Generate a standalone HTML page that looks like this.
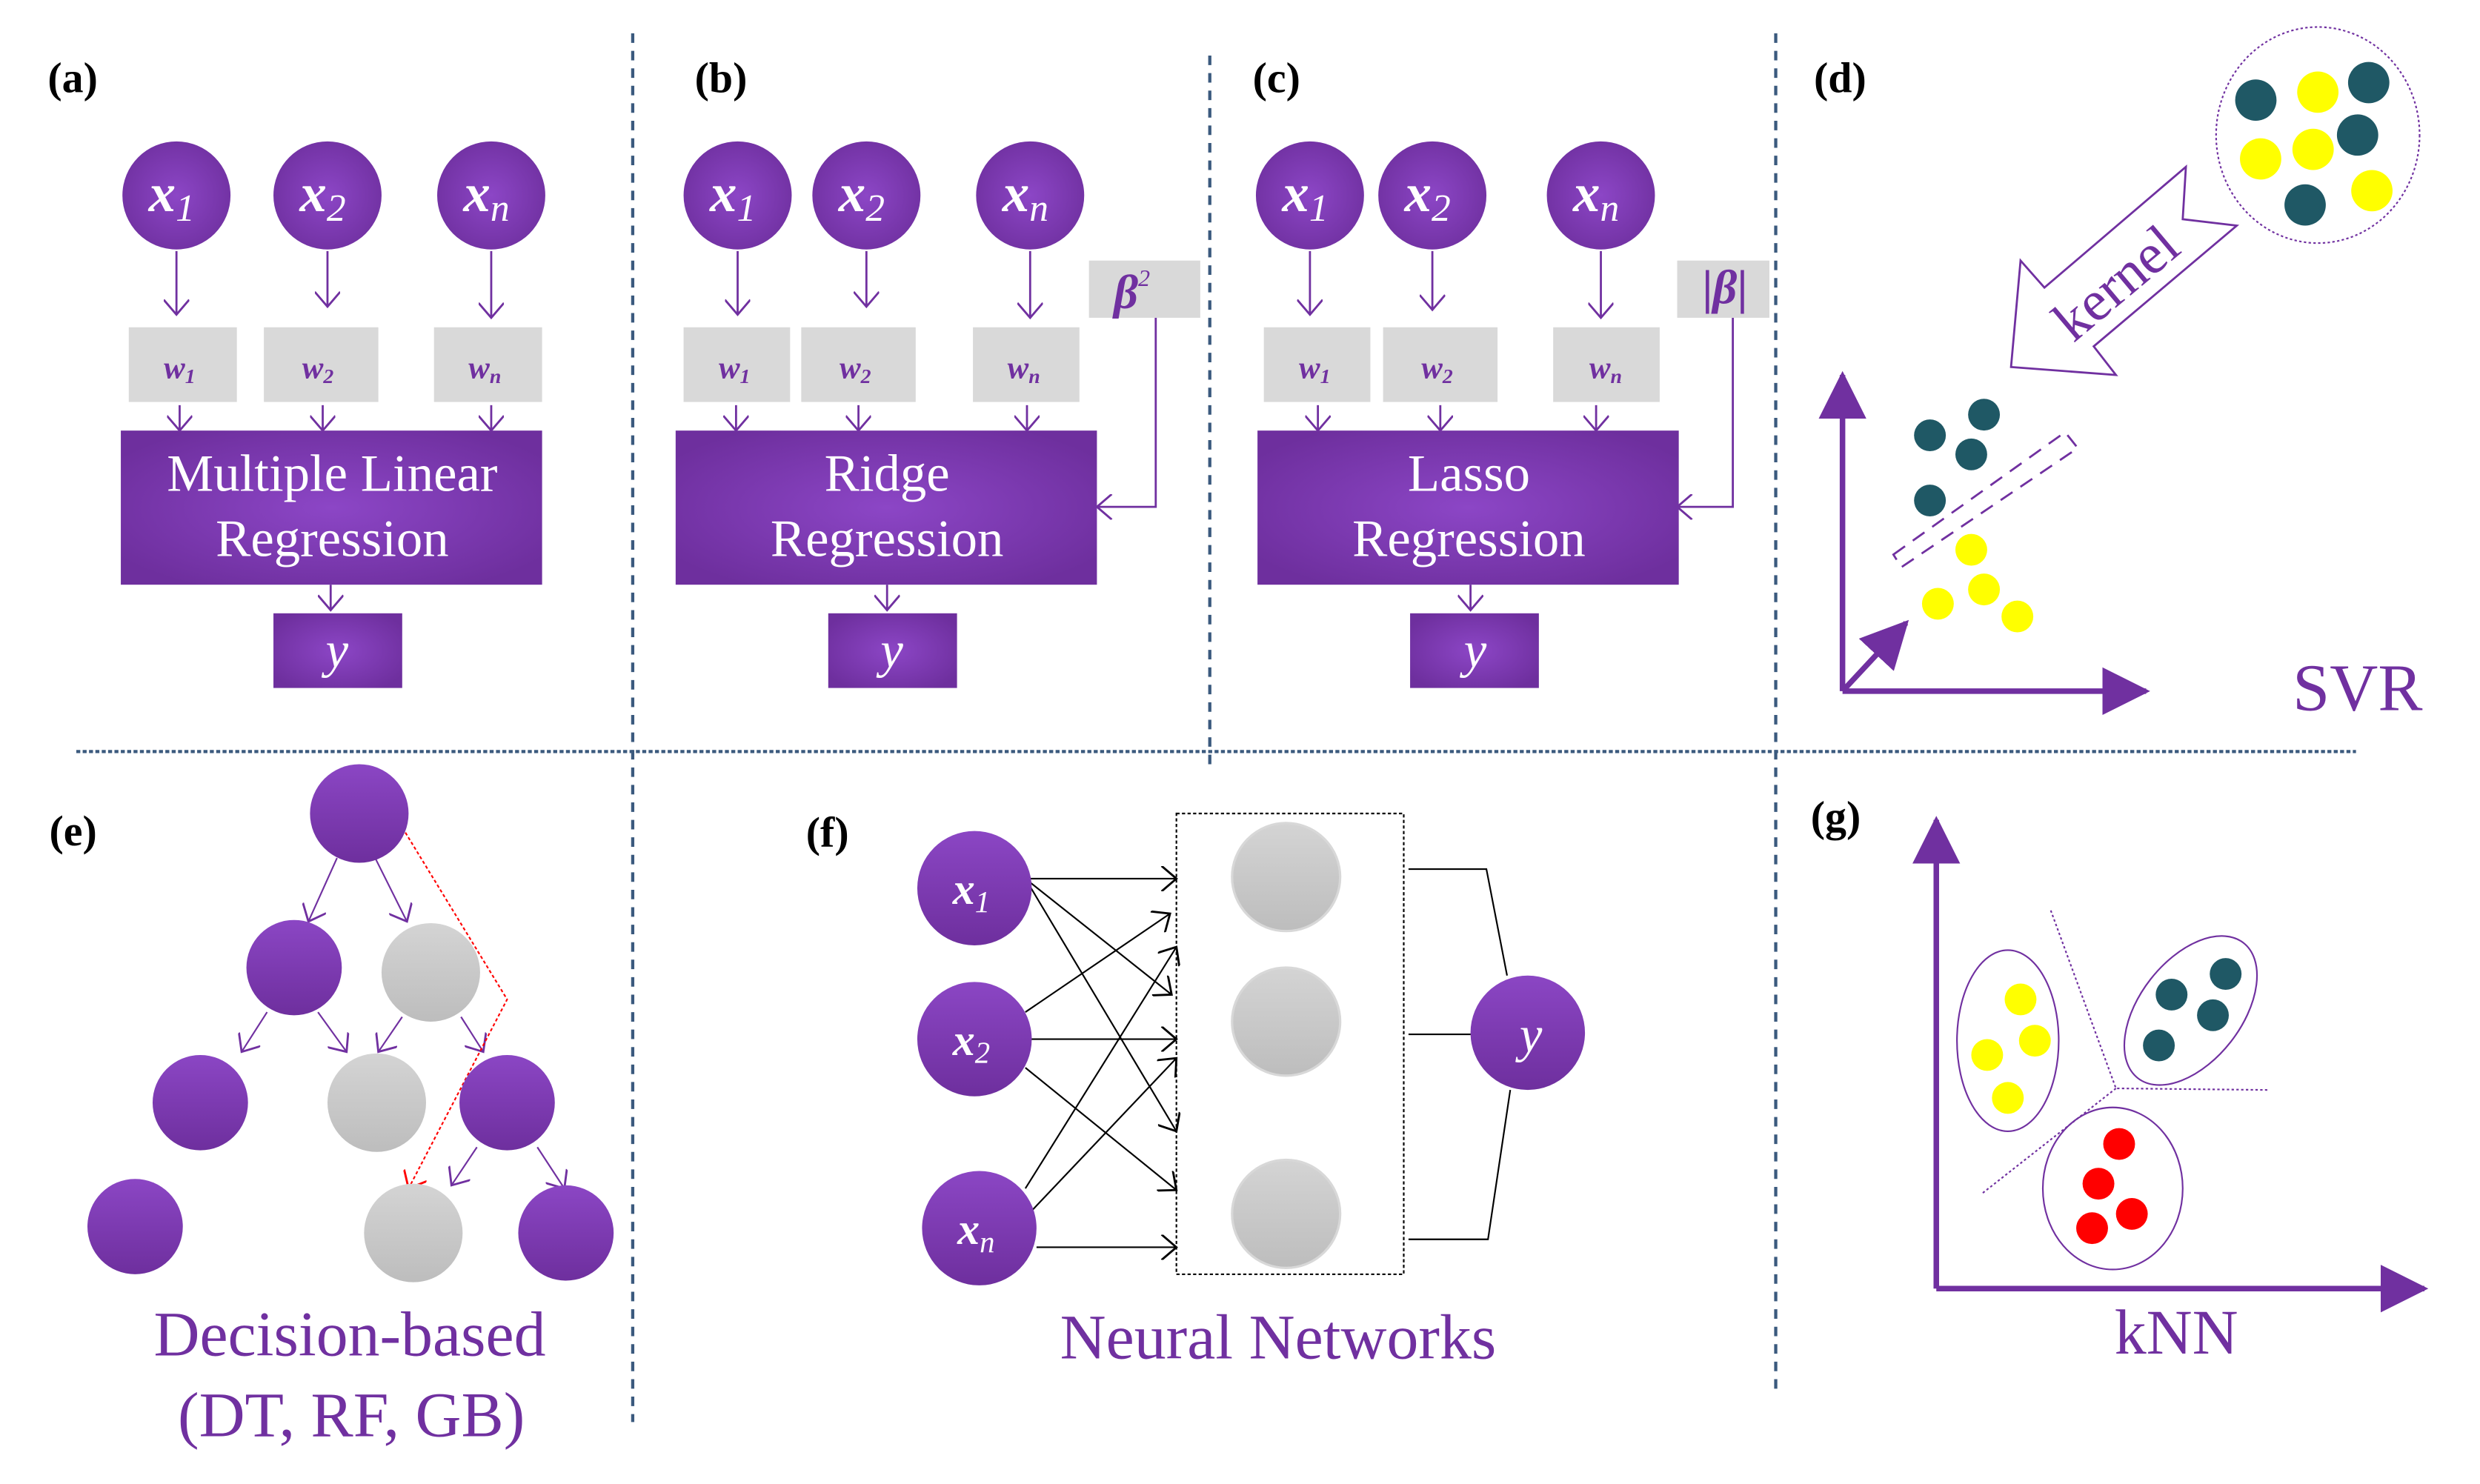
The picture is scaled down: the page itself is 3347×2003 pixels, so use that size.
<!DOCTYPE html>
<html><head><meta charset="utf-8"><style>
html,body{margin:0;padding:0;background:#fff;}
svg{display:block;}
text{font-family:"Liberation Serif",serif;}
</style></head><body>
<svg width="3347" height="2003" viewBox="0 0 1560 934" preserveAspectRatio="none" xmlns="http://www.w3.org/2000/svg" font-family="Liberation Serif, serif">
<defs>
<radialGradient id="pg" cx="50%" cy="50%" r="60%"><stop offset="0" stop-color="#8c46c6"/><stop offset="1" stop-color="#6e2f9e"/></radialGradient>
<linearGradient id="tg" x1="0" y1="0" x2="0" y2="1"><stop offset="0" stop-color="#8b46c4"/><stop offset="1" stop-color="#6e2f9e"/></linearGradient>
<linearGradient id="gg" x1="0" y1="0" x2="0" y2="1"><stop offset="0" stop-color="#d4d4d4"/><stop offset="1" stop-color="#bdbdbd"/></linearGradient>
<marker id="ar" markerUnits="userSpaceOnUse" markerWidth="16" markerHeight="16" refX="7" refY="6" orient="auto" viewBox="0 0 8 12"><path d="M0,0 L7,6 L0,12" fill="none" stroke="#7030a0" stroke-width="1"/></marker>
<marker id="ark" markerUnits="userSpaceOnUse" markerWidth="16" markerHeight="16" refX="7" refY="6" orient="auto" viewBox="0 0 8 12"><path d="M0,0 L7,6 L0,12" fill="none" stroke="#000" stroke-width="1"/></marker>
<marker id="arr" markerUnits="userSpaceOnUse" markerWidth="16" markerHeight="16" refX="7" refY="6" orient="auto" viewBox="0 0 8 12"><path d="M0,0 L7,6 L0,12" fill="none" stroke="#f00" stroke-width="1"/></marker>
<marker id="ah" markerUnits="userSpaceOnUse" markerWidth="30" markerHeight="30" refX="22" refY="12" orient="auto" viewBox="0 0 24 24"><path d="M0,0 L24,12 L0,24 Z" fill="#7030a0"/></marker>
</defs>

<g stroke="#3b5a7e" stroke-width="2" fill="none">
<line x1="398" y1="21" x2="398" y2="895" stroke-dasharray="6,5"/>
<line x1="761" y1="35" x2="761" y2="481" stroke-dasharray="6,5"/>
<line x1="1117" y1="21" x2="1117" y2="876" stroke-dasharray="6,5"/>
<line x1="48" y1="473" x2="1482" y2="473" stroke-dasharray="2.5,1.5"/>
</g>

<g font-weight="bold" font-size="27" fill="#000">
<text x="30" y="58">(a)</text>
<text x="437" y="58">(b)</text>
<text x="788" y="58">(c)</text>
<text x="1141" y="58">(d)</text>
<text x="31" y="532">(e)</text>
<text x="507" y="533">(f)</text>
<text x="1139" y="523">(g)</text>
</g>

<g stroke="#7030a0" stroke-width="1.3" fill="none">
<line x1="111" y1="158" x2="111" y2="198" marker-end="url(#ar)"/>
<line x1="206" y1="158" x2="206" y2="193" marker-end="url(#ar)"/>
<line x1="309" y1="158" x2="309" y2="200" marker-end="url(#ar)"/>
<line x1="113" y1="255" x2="113" y2="271" marker-end="url(#ar)"/>
<line x1="203" y1="255" x2="203" y2="271" marker-end="url(#ar)"/>
<line x1="309" y1="255" x2="309" y2="271" marker-end="url(#ar)"/>
<line x1="208" y1="368" x2="208" y2="384" marker-end="url(#ar)"/>
</g>
<g fill="url(#pg)">
<circle cx="111" cy="123" r="34"/><circle cx="206" cy="123" r="34"/><circle cx="309" cy="123" r="34"/>
<rect x="76" y="271" width="265" height="97"/>
<rect x="172" y="386" width="81" height="47"/>
</g>
<g fill="#d9d9d9"><rect x="81" y="206" width="68" height="47"/><rect x="166" y="206" width="72" height="47"/><rect x="273" y="206" width="68" height="47"/></g>

<g stroke="#7030a0" stroke-width="1.3" fill="none">
<line x1="464" y1="158" x2="464" y2="198" marker-end="url(#ar)"/>
<line x1="545" y1="158" x2="545" y2="193" marker-end="url(#ar)"/>
<line x1="648" y1="158" x2="648" y2="200" marker-end="url(#ar)"/>
<line x1="463" y1="255" x2="463" y2="271" marker-end="url(#ar)"/>
<line x1="540" y1="255" x2="540" y2="271" marker-end="url(#ar)"/>
<line x1="646" y1="255" x2="646" y2="271" marker-end="url(#ar)"/>
<line x1="558" y1="368" x2="558" y2="384" marker-end="url(#ar)"/>
<polyline points="727,200 727,319 690,319" marker-end="url(#ar)"/>
</g>
<g fill="url(#pg)">
<circle cx="464" cy="123" r="34"/><circle cx="545" cy="123" r="34"/><circle cx="648" cy="123" r="34"/>
<rect x="425" y="271" width="265" height="97"/>
<rect x="521" y="386" width="81" height="47"/>
</g>
<g fill="#d9d9d9"><rect x="430" y="206" width="67" height="47"/><rect x="504" y="206" width="72" height="47"/><rect x="612" y="206" width="67" height="47"/><rect x="685" y="164" width="70" height="36"/></g>

<g stroke="#7030a0" stroke-width="1.3" fill="none">
<line x1="824" y1="158" x2="824" y2="198" marker-end="url(#ar)"/>
<line x1="901" y1="158" x2="901" y2="195" marker-end="url(#ar)"/>
<line x1="1007" y1="158" x2="1007" y2="200" marker-end="url(#ar)"/>
<line x1="829" y1="255" x2="829" y2="271" marker-end="url(#ar)"/>
<line x1="906" y1="255" x2="906" y2="271" marker-end="url(#ar)"/>
<line x1="1004" y1="255" x2="1004" y2="271" marker-end="url(#ar)"/>
<line x1="925" y1="368" x2="925" y2="384" marker-end="url(#ar)"/>
<polyline points="1090,200 1090,319 1055,319" marker-end="url(#ar)"/>
</g>
<g fill="url(#pg)">
<circle cx="824" cy="123" r="34"/><circle cx="901" cy="123" r="34"/><circle cx="1007" cy="123" r="34"/>
<rect x="791" y="271" width="265" height="97"/>
<rect x="887" y="386" width="81" height="47"/>
</g>
<g fill="#d9d9d9"><rect x="795" y="206" width="67" height="47"/><rect x="870" y="206" width="72" height="47"/><rect x="977" y="206" width="67" height="47"/><rect x="1055" y="164" width="58" height="36"/></g>

<g fill="#fff" font-weight="bold" font-style="italic" font-size="34" text-anchor="middle">
<text x="108" y="133">x<tspan font-size="24" font-weight="normal" dy="6">1</tspan></text>
<text x="203" y="133">x<tspan font-size="24" font-weight="normal" dy="6">2</tspan></text>
<text x="306" y="133">x<tspan font-size="24" font-weight="normal" dy="6">n</tspan></text>
<text x="461" y="133">x<tspan font-size="24" font-weight="normal" dy="6">1</tspan></text>
<text x="542" y="133">x<tspan font-size="24" font-weight="normal" dy="6">2</tspan></text>
<text x="645" y="133">x<tspan font-size="24" font-weight="normal" dy="6">n</tspan></text>
<text x="821" y="133">x<tspan font-size="24" font-weight="normal" dy="6">1</tspan></text>
<text x="898" y="133">x<tspan font-size="24" font-weight="normal" dy="6">2</tspan></text>
<text x="1004" y="133">x<tspan font-size="24" font-weight="normal" dy="6">n</tspan></text>
</g>
<g fill="#7030a0" font-weight="bold" font-style="italic" font-size="20" text-anchor="middle">
<text x="113" y="238">w<tspan font-size="13" dy="3">1</tspan></text>
<text x="200" y="238">w<tspan font-size="13" dy="3">2</tspan></text>
<text x="305" y="238">w<tspan font-size="13" dy="3">n</tspan></text>
<text x="462" y="238">w<tspan font-size="13" dy="3">1</tspan></text>
<text x="538" y="238">w<tspan font-size="13" dy="3">2</tspan></text>
<text x="644" y="238">w<tspan font-size="13" dy="3">n</tspan></text>
<text x="827" y="238">w<tspan font-size="13" dy="3">1</tspan></text>
<text x="904" y="238">w<tspan font-size="13" dy="3">2</tspan></text>
<text x="1010" y="238">w<tspan font-size="13" dy="3">n</tspan></text>
</g>
<text x="712" y="194" fill="#7030a0" font-weight="bold" font-style="italic" font-size="30" text-anchor="middle">β<tspan font-size="15" font-weight="normal" dy="-14">2</tspan></text>
<text x="1085" y="191" fill="#7030a0" font-weight="bold" font-size="30" text-anchor="middle">|<tspan font-style="italic">β</tspan>|</text>

<g fill="#fff" font-size="33" text-anchor="middle">
<text x="209" y="309">Multiple Linear</text>
<text x="209" y="350">Regression</text>
<text x="558" y="309">Ridge</text>
<text x="558" y="350">Regression</text>
<text x="924" y="309">Lasso</text>
<text x="924" y="350">Regression</text>
</g>
<g fill="#fff" font-style="italic" font-size="32" text-anchor="middle">
<text x="212" y="420">y</text><text x="561" y="420">y</text><text x="928" y="420">y</text>
</g>

<ellipse cx="1458" cy="85" rx="64" ry="68" fill="none" stroke="#7030a0" stroke-width="1" stroke-dasharray="1.5,1.5"/>
<g fill="#1f5865">
<circle cx="1419" cy="63" r="13"/><circle cx="1490" cy="52" r="13"/><circle cx="1483" cy="85" r="13"/><circle cx="1450" cy="129" r="13"/>
<circle cx="1214" cy="274" r="10"/><circle cx="1248" cy="261" r="10"/><circle cx="1240" cy="286" r="10"/><circle cx="1214" cy="315" r="10"/>
</g>
<g fill="#ffff00">
<circle cx="1458" cy="58" r="13"/><circle cx="1422" cy="100" r="13"/><circle cx="1455" cy="94" r="13"/><circle cx="1492" cy="120" r="13"/>
<circle cx="1240" cy="346" r="10"/><circle cx="1248" cy="371" r="10"/><circle cx="1219" cy="380" r="10"/><circle cx="1269" cy="388" r="10"/>
</g>
<polygon points="1265,231 1331,236 1317,218 1407,142 1373,138 1375,105 1286,181 1271,164" fill="#fff" stroke="#7030a0" stroke-width="1.3"/>
<text x="1331" y="190" fill="#7030a0" font-size="36" text-anchor="middle" transform="rotate(-40 1331 178)">kernel</text>
<g fill="none" stroke="#7030a0" stroke-width="1.3" stroke-dasharray="9,6">
<polygon points="1191,349 1299,272 1307,282 1196,357"/>
</g>
<g stroke="#7030a0" stroke-width="3.5" fill="none">
<line x1="1159" y1="435" x2="1159" y2="236" marker-end="url(#ah)"/>
<line x1="1159" y1="435" x2="1350" y2="435" marker-end="url(#ah)"/>
<line x1="1159" y1="435" x2="1199" y2="392" marker-end="url(#ah)"/>
</g>
<text x="1483" y="447" fill="#7030a0" font-size="42" text-anchor="middle">SVR</text>

<g stroke="#7030a0" stroke-width="1" fill="none">
<line x1="212" y1="540" x2="194" y2="580" marker-end="url(#ar)"/>
<line x1="236" y1="540" x2="256" y2="580" marker-end="url(#ar)"/>
<line x1="168" y1="637" x2="152" y2="662" marker-end="url(#ar)"/>
<line x1="200" y1="637" x2="218" y2="662" marker-end="url(#ar)"/>
<line x1="253" y1="640" x2="238" y2="662" marker-end="url(#ar)"/>
<line x1="290" y1="640" x2="304" y2="662" marker-end="url(#ar)"/>
<line x1="300" y1="722" x2="284" y2="746" marker-end="url(#ar)"/>
<line x1="338" y1="722" x2="355" y2="748" marker-end="url(#ar)"/>
</g>
<polyline points="255,524 319,629 257,748" fill="none" stroke="#f00" stroke-width="1" stroke-dasharray="2,1.5" marker-end="url(#arr)"/>
<g fill="url(#tg)">
<circle cx="226" cy="512" r="31"/><circle cx="185" cy="609" r="30"/><circle cx="126" cy="694" r="30"/><circle cx="319" cy="694" r="30"/><circle cx="85" cy="772" r="30"/><circle cx="356" cy="776" r="30"/>
</g>
<g fill="url(#gg)"><circle cx="271" cy="612" r="31"/><circle cx="237" cy="694" r="31"/><circle cx="260" cy="776" r="31"/></g>
<g fill="#7030a0" font-size="40" text-anchor="middle">
<text x="220" y="853">Decision-based</text>
<text x="221" y="904">(DT, RF, GB)</text>
</g>

<rect x="740" y="512" width="143" height="290" fill="none" stroke="#000" stroke-width="1" stroke-dasharray="2,1.5"/>
<g stroke="#000" stroke-width="1" fill="none">
<line x1="645" y1="553" x2="740" y2="553" marker-end="url(#ark)"/>
<line x1="645" y1="553" x2="737" y2="626" marker-end="url(#ark)"/>
<line x1="645" y1="553" x2="740" y2="712" marker-end="url(#ark)"/>
<line x1="645" y1="637" x2="736" y2="575" marker-end="url(#ark)"/>
<line x1="646" y1="654" x2="740" y2="654" marker-end="url(#ark)"/>
<line x1="645" y1="672" x2="740" y2="749" marker-end="url(#ark)"/>
<line x1="645" y1="748" x2="740" y2="596" marker-end="url(#ark)"/>
<line x1="649" y1="762" x2="740" y2="666" marker-end="url(#ark)"/>
<line x1="652" y1="785" x2="740" y2="785" marker-end="url(#ark)"/>
<polyline points="886,547 935,547 948,614"/>
<line x1="886" y1="651" x2="930" y2="651"/>
<polyline points="886,780 936,780 950,686"/>
</g>
<g fill="url(#tg)">
<circle cx="613" cy="559" r="36"/><circle cx="613" cy="654" r="36"/><circle cx="616" cy="773" r="36"/><circle cx="961" cy="650" r="36"/>
</g>
<g fill="url(#gg)" stroke="#d8d8d8" stroke-width="1.5"><circle cx="809" cy="552" r="34"/><circle cx="809" cy="643" r="34"/><circle cx="809" cy="764" r="34"/></g>
<g fill="#fff" font-style="italic" font-weight="bold" font-size="28" text-anchor="middle">
<text x="611" y="569">x<tspan font-size="19" font-weight="normal" dy="5">1</tspan></text>
<text x="611" y="664">x<tspan font-size="19" font-weight="normal" dy="5">2</tspan></text>
<text x="614" y="783">x<tspan font-size="19" font-weight="normal" dy="5">n</tspan></text>
</g>
<text x="963" y="662" fill="#fff" font-style="italic" font-size="32" text-anchor="middle">y</text>
<text x="804" y="855" fill="#7030a0" font-size="40" text-anchor="middle">Neural Networks</text>

<g stroke="#7030a0" stroke-width="1" fill="none">
<ellipse cx="1263" cy="655" rx="32" ry="57"/>
<ellipse cx="1378" cy="636" rx="32" ry="54" transform="rotate(38 1378 636)"/>
<ellipse cx="1329" cy="748" rx="44" ry="51"/>
<polyline points="1290,573 1331,685 1427,686" stroke-dasharray="1.5,1.5"/>
<line x1="1331" y1="685" x2="1247" y2="751" stroke-dasharray="1.5,1.5"/>
</g>
<g fill="#ffff00"><circle cx="1271" cy="629" r="10"/><circle cx="1280" cy="655" r="10"/><circle cx="1250" cy="664" r="10"/><circle cx="1263" cy="691" r="10"/></g>
<g fill="#1f5865"><circle cx="1366" cy="626" r="10"/><circle cx="1400" cy="613" r="10"/><circle cx="1392" cy="639" r="10"/><circle cx="1358" cy="658" r="10"/></g>
<g fill="#ff0000"><circle cx="1333" cy="720" r="10"/><circle cx="1320" cy="745" r="10"/><circle cx="1341" cy="764" r="10"/><circle cx="1316" cy="773" r="10"/></g>
<g stroke="#7030a0" stroke-width="3.5" fill="none">
<line x1="1218" y1="811" x2="1218" y2="516" marker-end="url(#ah)"/>
<line x1="1218" y1="811" x2="1525" y2="811" marker-end="url(#ah)"/>
</g>
<text x="1369" y="852" fill="#7030a0" font-size="40" text-anchor="middle">kNN</text>
</svg>
</body></html>
